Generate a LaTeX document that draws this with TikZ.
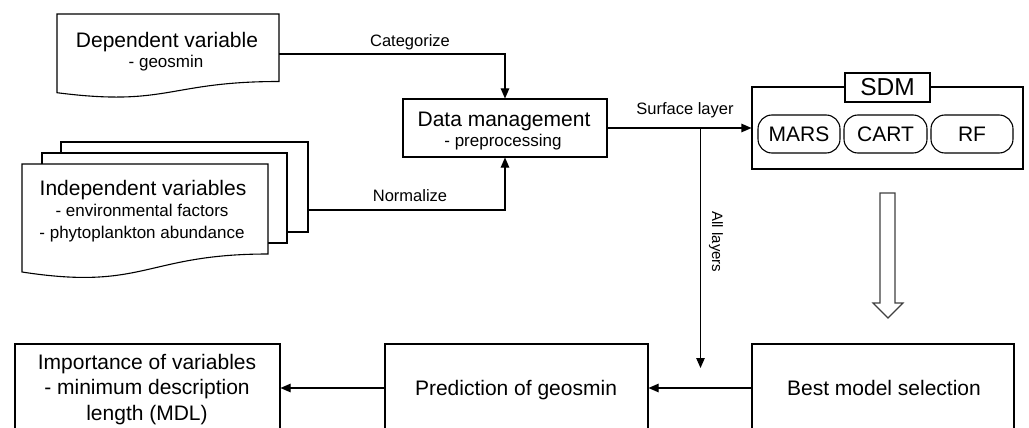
\documentclass[tikz,border=0pt]{standalone}
\usepackage{fontspec}
\setmainfont{Liberation Sans}
\usetikzlibrary{arrows.meta}
\begin{document}
\begin{tikzpicture}[x=1pt,y=-1pt,
  outline/.style={draw=black, line width=1.1pt},
  box/.style={outline, fill=white, inner sep=0pt},
  pill/.style={box, rounded corners=14pt, minimum height=38pt},
  conn/.style={draw=black, line width=1.1pt, -{Triangle[length=10pt,width=8.5pt]}},
  plainline/.style={draw=black, line width=1.1pt},
  big/.style={font=\fontsize{21}{25}\selectfont, anchor=base, inner sep=0pt},
  small/.style={font=\fontsize{17}{20}\selectfont, anchor=base, inner sep=0pt},
  lbl/.style={font=\fontsize{16.5}{19}\selectfont, anchor=base, inner sep=0pt},
  hollow/.style={draw=black!75, line width=1.1pt, fill=white}]

\clip (0,0) rectangle (1029,428);
\fill[white] (0,0) rectangle (1029,428);

% ---------- dependent variable (document shape)
\path[outline, fill=white] (57,14) -- (279,14) -- (279,81.5)
   .. controls (168,81.5) and (168,107) .. (57,92.7) -- cycle;
\coordinate (depout) at (279,54);
\node[big]   (dep1) at (167,48) {Dependent variable};
\node[small] (dep2) at (166,68) {- geosmin};

% ---------- independent variables (stacked documents)
\path[outline, fill=white] (61,153) -- (61,142) -- (308,142) -- (308,232) -- (287,232);
\path[outline, fill=white] (42,164) -- (42,153) -- (287,153) -- (287,243) -- (268,243);
\path[outline, fill=white] (22,164) -- (268,164) -- (268,254)
   .. controls (145,254) and (145,291) .. (22,272) -- cycle;
\coordinate (indout) at (308,210);
\node[big]   (ind1) at (143,195) {Independent variables};
\node[small] (ind2) at (142,216.5) {- environmental factors};
\node[small] (ind3) at (142,238) {- phytoplankton abundance};

% ---------- data management
\node[box, minimum width=204pt, minimum height=58pt] (dm) at (505,128) {};
\node[big]   (dm1) at (504,126) {Data management};
\node[small] (dm2) at (503,146.5) {- preprocessing};

% ---------- species distribution models
\node[box, minimum width=271pt, minimum height=82pt] (sdm) at (887.5,128) {};
\node[box, minimum width=85pt, minimum height=29pt,
      font=\fontsize{24.5}{28}\selectfont] (sdmtitle) at (887.5,87.5) {SDM};
\node[pill, minimum width=82pt, font=\fontsize{21}{25}\selectfont] (mars) at (799,134) {MARS};
\node[pill, minimum width=83pt, font=\fontsize{21}{25}\selectfont] (cart) at (885.5,134) {CART};
\node[pill, minimum width=82pt, font=\fontsize{21}{25}\selectfont] (rf)   at (972,134) {RF};

% ---------- bottom row
\node[box, minimum width=265pt, minimum height=88pt] (imp)  at (147.5,388) {};
\node[box, minimum width=263pt, minimum height=88pt] (pred) at (516.5,388) {};
\node[box, minimum width=262pt, minimum height=88pt] (best) at (883,388) {};
\node[big] (imp1) at (147,369.5) {Importance of variables};
\node[big] (imp2) at (147,394.5) {- minimum description};
\node[big] (imp3) at (147,420) {length (MDL)};
\node[big] (pred1) at (516,395) {Prediction of geosmin};
\node[big] (best1) at (884,395) {Best model selection};

% ---------- connectors
\draw[conn] (depout) -| (dm.north);
\node[lbl] (cat) at (410,46.5) {Categorize};
\draw[conn] (indout) -| (dm.south);
\node[lbl] (norm) at (410,201.5) {Normalize};
\draw[conn] (dm.east) -- (sdm.west);
\node[lbl] (surf) at (685,114) {Surface layer};
\coordinate (split) at (700.5,128);
\coordinate (alltip) at (700.5,368);
\draw[conn] (split) -- (alltip);
\node[font=\fontsize{15}{18}\selectfont, rotate=-90, inner sep=0pt] (all) at (716,242) {All layers};
\draw[conn] (best.west) -- (pred.east);
\draw[conn] (pred.west) -- (imp.east);

% ---------- hollow block arrow from SDM to model selection
\path[hollow] (880,193) -- (895,193) -- (895,303) -- (903,303) -- (888,318)
   -- (873,303) -- (880,303) -- cycle;
\end{tikzpicture}
\end{document}
